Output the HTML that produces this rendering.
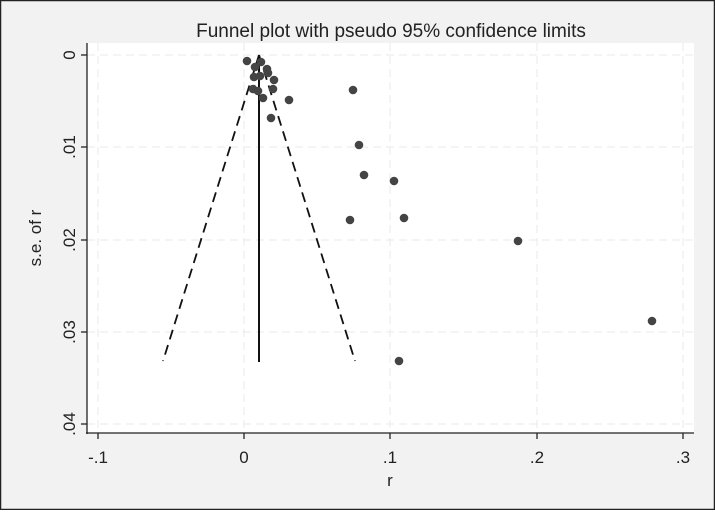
<!DOCTYPE html>
<html><head><style>
html,body{margin:0;padding:0;}
body{width:715px;height:510px;overflow:hidden;}
</style></head><body>
<svg width="715" height="510" xmlns="http://www.w3.org/2000/svg" font-family="Liberation Sans, Arial, sans-serif">
<rect x="0" y="0" width="715" height="510" fill="#f2f2f2"/>
<rect x="0.5" y="0.5" width="714" height="509" fill="none" stroke="#222" stroke-width="1.5"/>
<rect x="87" y="43" width="607" height="390" fill="#fff"/>
<g stroke="#e8e8e8" stroke-width="1" stroke-dasharray="8,5" fill="none">
<line x1="98" y1="43" x2="98" y2="433"/>
<line x1="244" y1="43" x2="244" y2="433"/>
<line x1="390" y1="43" x2="390" y2="433"/>
<line x1="537" y1="43" x2="537" y2="433"/>
<line x1="683" y1="43" x2="683" y2="433"/>
<line x1="87" y1="55" x2="694" y2="55"/>
<line x1="87" y1="147" x2="694" y2="147"/>
<line x1="87" y1="240" x2="694" y2="240"/>
<line x1="87" y1="332" x2="694" y2="332"/>
<line x1="87" y1="424" x2="694" y2="424"/>
</g>
<g stroke="#222" stroke-width="1.3">
<line x1="87" y1="43" x2="87" y2="434"/>
<line x1="86" y1="433" x2="694" y2="433"/>
<line x1="81" y1="55" x2="87" y2="55"/>
<line x1="81" y1="147" x2="87" y2="147"/>
<line x1="81" y1="240" x2="87" y2="240"/>
<line x1="81" y1="332" x2="87" y2="332"/>
<line x1="81" y1="424" x2="87" y2="424"/>
<line x1="98" y1="433" x2="98" y2="439"/>
<line x1="244" y1="433" x2="244" y2="439"/>
<line x1="390" y1="433" x2="390" y2="439"/>
<line x1="537" y1="433" x2="537" y2="439"/>
<line x1="683" y1="433" x2="683" y2="439"/>
</g>
<g font-size="17" fill="#222" text-anchor="middle">
<text x="98" y="463">-.1</text>
<text x="244" y="463">0</text>
<text x="390" y="463">.1</text>
<text x="537" y="463">.2</text>
<text x="683" y="463">.3</text>
<text x="390" y="486">r</text>
<text transform="translate(75,55) rotate(-90)">0</text>
<text transform="translate(75,147) rotate(-90)">.01</text>
<text transform="translate(75,240) rotate(-90)">.02</text>
<text transform="translate(75,332) rotate(-90)">.03</text>
<text transform="translate(75,424) rotate(-90)">.04</text>
<text transform="translate(41,238) rotate(-90)">s.e. of r</text>
<text x="391" y="37" font-size="19">Funnel plot with pseudo 95% confidence limits</text>
</g>
<g stroke="#111" stroke-width="1.8" fill="none">
<line x1="259" y1="55" x2="259" y2="362" stroke-width="2"/>
<line x1="259" y1="55" x2="163" y2="361" stroke-dasharray="10,6"/>
<line x1="259" y1="55" x2="355" y2="361" stroke-dasharray="10,6"/>
</g>
<g fill="#444">
<circle cx="247" cy="61" r="4.3"/><circle cx="261" cy="62" r="4.3"/><circle cx="255" cy="67" r="4.3"/>
<circle cx="267" cy="69" r="4.3"/><circle cx="268" cy="73" r="4.3"/><circle cx="254" cy="77" r="4.3"/>
<circle cx="260" cy="76" r="4.3"/><circle cx="274" cy="80" r="4.3"/><circle cx="253" cy="89" r="4.3"/>
<circle cx="258" cy="91" r="4.3"/><circle cx="273" cy="89" r="4.3"/><circle cx="263" cy="98" r="4.3"/>
<circle cx="289" cy="100" r="4.3"/><circle cx="271" cy="118" r="4.3"/>
<circle cx="353" cy="90" r="4.3"/><circle cx="359" cy="145" r="4.3"/><circle cx="364" cy="175" r="4.3"/>
<circle cx="394" cy="181" r="4.3"/><circle cx="350" cy="220" r="4.3"/><circle cx="404" cy="218" r="4.3"/>
<circle cx="518" cy="241" r="4.3"/><circle cx="652" cy="321" r="4.3"/><circle cx="399" cy="361" r="4.3"/>
</g>
</svg>
</body></html>
